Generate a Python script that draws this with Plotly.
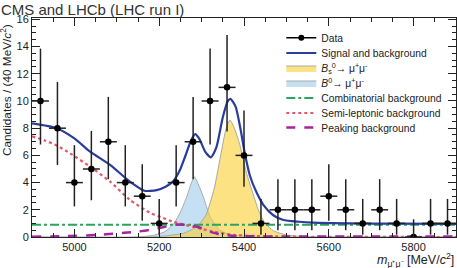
import plotly.graph_objects as go

# ---- data ----
bin_centers = [4920, 4960, 5000, 5040, 5080, 5120, 5160, 5200, 5240, 5280, 5320, 5360, 5400,
               5440, 5480, 5520, 5560, 5600, 5640, 5680, 5720, 5760, 5800, 5840, 5880]
counts = [10, 8, 4, 5, 7, 4, 3, 1, 4, 7, 10, 11, 6, 1, 2, 2, 2, 3, 2, 1, 2, 1, 0, 1, 1]
err_up = [3.85, 3.4, 2.75, 2.8, 3.3, 2.75, 2.35, 1.8, 2.75, 3.3, 3.85, 3.85, 3.3,
          1.8, 2.25, 2.25, 2.25, 2.35, 2.25, 1.8, 2.25, 1.8, 1.3, 1.8, 1.8]
err_down = [3.2, 2.7, 1.75, 2.3, 2.75, 1.75, 1.8, 0.83, 1.75, 2.75, 3.2, 3.25, 2.3,
            0.83, 1.5, 1.5, 1.5, 1.8, 1.5, 0.83, 1.5, 0.83, 0.0, 0.83, 0.83]
bin_half = [20] * len(bin_centers)

# total fit (signal + background)
tot_x = [4900, 4958, 5000, 5037, 5084, 5131, 5165, 5194, 5215, 5233, 5250, 5261, 5275, 5285,
         5295, 5308, 5322, 5335, 5350, 5362, 5368, 5380, 5392, 5401, 5414, 5430, 5446, 5469,
         5493, 5530, 5563, 5650, 5750, 5900]
tot_y = [8.35, 8.0, 7.25, 6.27, 5.3, 4.07, 3.4, 3.45, 3.7, 4.1, 5.0, 5.9, 7.1, 7.57,
         7.2, 6.3, 5.86, 6.6, 8.8, 10.0, 10.15, 9.6, 7.9, 6.3, 4.5, 3.25, 2.35, 1.6,
         1.25, 1.12, 1.05, 1.0, 0.98, 0.97]

# Bs -> mu mu
bs_x = [4900, 5180, 5220, 5260, 5290, 5310, 5330, 5345, 5358, 5367, 5376, 5390, 5405, 5420,
        5435, 5450, 5470, 5500, 5540, 5600, 5900]
bs_y = [0.0, 0.0, 0.1, 0.3, 0.8, 1.6, 3.6, 6.0, 8.0, 8.6, 8.1, 6.8, 4.8, 3.3,
        1.9, 1.0, 0.45, 0.15, 0.03, 0.0, 0.0]

# B0 -> mu mu
bd_x = [4900, 5150, 5190, 5214, 5235, 5249, 5265, 5275, 5283, 5292, 5304, 5320, 5343, 5370,
        5400, 5450, 5900]
bd_y = [0.0, 0.0, 0.15, 0.4, 1.0, 1.76, 2.96, 3.9, 4.42, 3.9, 2.96, 1.5, 0.5, 0.15,
        0.05, 0.0, 0.0]

# combinatorial background
comb_x = [4900, 5900]
comb_y = [0.9, 0.9]

# semi-leptonic background
semi_x = [4900, 4930, 4960, 4990, 5040, 5085, 5130, 5180, 5205, 5235, 5280, 5325, 5370,
          5420, 5500, 5600, 5900]
semi_y = [7.4, 7.1, 6.7, 6.15, 5.1, 4.05, 2.75, 1.75, 1.45, 1.1, 0.75, 0.42, 0.17,
          0.08, 0.03, 0.01, 0.0]

# peaking background
peak_x = [4900, 4980, 5050, 5100, 5150, 5190, 5220, 5245, 5265, 5290, 5310, 5340, 5370,
          5420, 5500, 5900]
peak_y = [0.02, 0.06, 0.15, 0.26, 0.4, 0.58, 0.8, 0.92, 0.88, 0.75, 0.5, 0.22, 0.1,
          0.05, 0.04, 0.03]

FONT = "Liberation Sans, Arial, sans-serif"
TXT = "#222222"

fig = go.Figure()

# filled components
fig.add_trace(go.Scatter(
    x=bd_x, y=bd_y, mode="lines", fill="tozeroy",
    line=dict(color="#a8a8a8", width=1, shape="spline", smoothing=0.6),
    fillcolor="#c6e0f3", name="<i>B</i><sup>0</sup>→ μ<sup>+</sup>μ<sup>-</sup>",
    legend="legend4"))
fig.add_trace(go.Scatter(
    x=bs_x, y=bs_y, mode="lines", fill="tozeroy",
    line=dict(color="#a8a8a8", width=1, shape="spline", smoothing=0.6),
    fillcolor="rgba(250,207,47,0.6)",
    name="<i>B</i><sub>s</sub><sup>0</sup>→ μ<sup>+</sup>μ<sup>-</sup>",
    legend="legend3"))

# backgrounds
fig.add_trace(go.Scatter(
    x=comb_x, y=comb_y, mode="lines",
    line=dict(color="#2ea35f", width=2, dash="dashdot"),
    name="Combinatorial background", legend="legend5"))
fig.add_trace(go.Scatter(
    x=semi_x, y=semi_y, mode="lines",
    line=dict(color="#e4576b", width=2.2, dash="dot", shape="spline", smoothing=0.6),
    name="Semi-leptonic background", legend="legend6"))
fig.add_trace(go.Scatter(
    x=peak_x, y=peak_y, mode="lines",
    line=dict(color="#a424a4", width=2.5, dash="dash", shape="spline", smoothing=0.6),
    name="Peaking background", legend="legend7"))

# total
fig.add_trace(go.Scatter(
    x=tot_x, y=tot_y, mode="lines",
    line=dict(color="#2a3d9c", width=2.2, shape="spline", smoothing=0.6),
    name="Signal and background", legend="legend2"))

# data
fig.add_trace(go.Scatter(
    x=bin_centers, y=counts, mode="markers",
    marker=dict(color="black", size=6.5),
    error_y=dict(type="data", symmetric=False, array=err_up, arrayminus=err_down,
                 color=TXT, thickness=1.5, width=0),
    error_x=dict(type="data", array=bin_half, color=TXT, thickness=1.5, width=0),
    name="Data", showlegend=False))
fig.add_trace(go.Scatter(
    x=[None], y=[None], mode="lines+markers",
    marker=dict(color="black", size=6), line=dict(color="black", width=1.5),
    name="Data", legend="legend"))

# one legend per entry so the rows can sit 15 px apart, as in the reference
row_centers_px = [37.7, 53.0, 68.0, 83.0, 98.0, 113.0, 127.5]
plot_top, plot_h = 18, 219
leg_common = dict(x=0.588, xanchor="left", yanchor="middle", bgcolor="rgba(0,0,0,0)",
                  font=dict(size=10.3, color=TXT), borderwidth=0)
legends = {}
for i, yc in enumerate(row_centers_px):
    key = "legend" if i == 0 else f"legend{i + 1}"
    legends[key] = dict(leg_common, y=1 - (yc - plot_top) / plot_h)

fig.update_layout(
    width=457, height=268,
    margin=dict(l=32, r=1, t=18, b=31),
    paper_bgcolor="white", plot_bgcolor="white",
    font=dict(family=FONT, size=11, color=TXT),
    title=dict(text="CMS and LHCb (LHC run I)", x=0.002, xanchor="left",
               y=0.965, yanchor="middle", font=dict(size=15, color="#333333")),
    showlegend=True,
    **legends,
)

fig.update_xaxes(
    range=[4900, 5900], showline=True, linecolor=TXT, linewidth=1, mirror="ticks",
    ticks="inside", ticklen=8, tickwidth=1, tickcolor=TXT, dtick=200, tick0=5000,
    minor=dict(dtick=50, ticks="inside", ticklen=4, tickcolor=TXT),
    showgrid=False, zeroline=False, tickfont=dict(size=11))
fig.update_yaxes(
    range=[0, 16.1], showline=True, linecolor=TXT, linewidth=1, mirror="ticks",
    ticks="inside", ticklen=8, tickwidth=1, tickcolor=TXT, dtick=2, tick0=0,
    minor=dict(dtick=0.5, ticks="inside", ticklen=4, tickcolor=TXT),
    showgrid=False, zeroline=False, tickfont=dict(size=11))

fig.add_annotation(
    text="Candidates / (40 MeV/<i>c</i><sup>2</sup>)", textangle=-90,
    xref="paper", yref="paper", x=-0.06, y=0.975, xanchor="center", yanchor="top",
    showarrow=False, borderpad=0, font=dict(size=11.8, color=TXT))
fig.add_annotation(
    text="<i>m</i><sub>μ⁺μ⁻</sub> [MeV/<i>c</i><sup>2</sup>]",
    xref="paper", yref="paper", x=1.0, y=-0.106, xanchor="right", yanchor="middle",
    showarrow=False, font=dict(size=12.5, color=TXT))

fig.write_html("out.html",
               config={"displayModeBar": False},
               post_script="document.body.style.margin='0';"
                           "document.body.style.overflow='hidden';")
